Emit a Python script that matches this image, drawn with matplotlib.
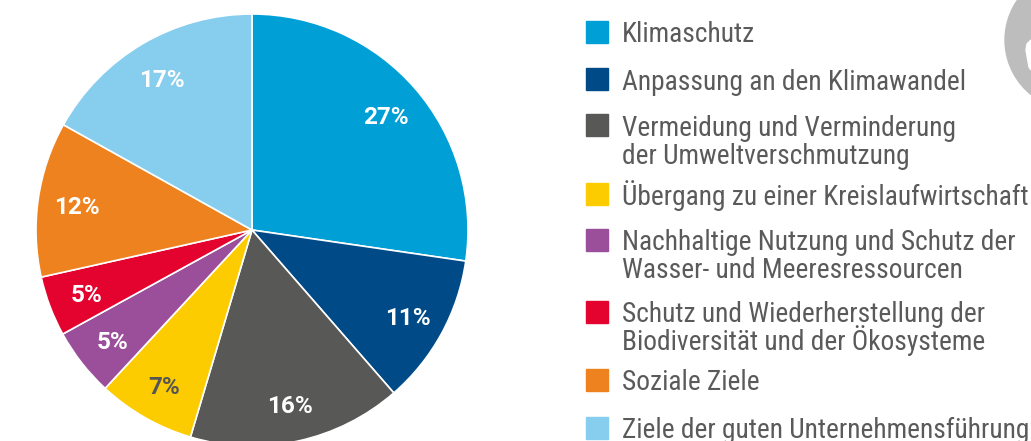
import matplotlib.pyplot as plt
from matplotlib.patches import Rectangle, Ellipse, Polygon

labels = ['Klimaschutz', 'Anpassung an den Klimawandel',
          'Vermeidung und Verminderung\nder Umweltverschmutzung',
          'Übergang zu einer Kreislaufwirtschaft',
          'Nachhaltige Nutzung und Schutz der\nWasser- und Meeresressourcen',
          'Schutz und Wiederherstellung der\nBiodiversität und der Ökosysteme',
          'Soziale Ziele', 'Ziele der guten Unternehmensführung']
# slice sizes as drawn in the picture, and the printed percentages
values = [27.3, 11.3, 16.0, 7.3, 5.1, 4.5, 11.6, 16.9]
pct_labels = ['27%', '11%', '16%', '7%', '5%', '5%', '12%', '17%']
colors = ['#009fd6', '#004b87', '#585857', '#fccc00', '#9b4f9a', '#e4032e', '#ee821e', '#87ceee']
pct_colors = ['white', 'white', 'white', '#555555', 'white', 'white', 'white', 'white']

leg_font = ['Roboto Condensed', 'PT Sans Narrow', 'Liberation Sans Narrow', 'DejaVu Sans']

W, H = 1031, 441
fig = plt.figure(figsize=(W / 100, H / 100), dpi=100)

# pie axes, centre (252, 230) px, radius 216 px
r = 216
ax = fig.add_axes([(252 - r) / W, (H - 230 - r) / H, 2 * r / W, 2 * r / H])
wedges, _, autotexts = ax.pie(values, colors=colors, startangle=90, counterclock=False,
                              autopct='%.0f', pctdistance=0.82,
                              wedgeprops=dict(edgecolor='white', linewidth=1.2),
                              textprops=dict(fontsize=17.5, fontweight='bold', family='Roboto'))
for t, s, c in zip(autotexts, pct_labels, pct_colors):
    t.set_text(s)
    t.set_color(c)
    x, y = t.get_position()
    t.set_position((x, y - 0.015))
ax.set_xlim(-1, 1)
ax.set_ylim(-1, 1)
ax.axis('off')

# legend drawn by hand so the square sits at the first line
ys = [32, 79, 125, 194, 240, 312, 380, 428]
for lab, col, y in zip(labels, colors, ys):
    fig.patches.append(Rectangle((586 / W, (H - y - 11) / H), 22 / W, 22 / H,
                                 transform=fig.transFigure, color=col))
    for i, line in enumerate(lab.split('\n')):
        fig.text(622 / W, (H - y - 10.5 - 28 * i) / H, line, ha='left', va='baseline',
                 fontsize=19.7, family=leg_font, color='#5a5a5a')

# grey logo fragment in the corner
fig.patches.append(Ellipse((1075 / W, (H - 40) / H), 140 / W, 140 / H,
                           transform=fig.transFigure, color='#bdbdbd'))
fig.patches.append(Polygon([(1027 / W, (H - 44) / H), (1031 / W, (H - 40) / H),
                            (1031 / W, (H - 70) / H), (1029 / W, (H - 67) / H),
                            (1026 / W, (H - 50) / H)],
                           closed=True, transform=fig.transFigure, color='white'))

fig.savefig('out.png', dpi=100)
